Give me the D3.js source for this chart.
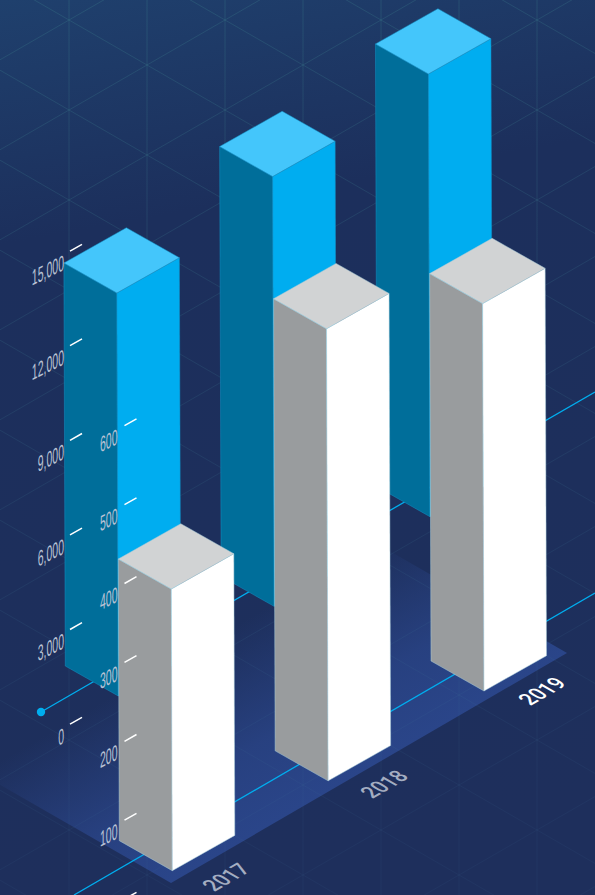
<!DOCTYPE html>
<html>
<head>
<meta charset="utf-8">
<script src="https://cdn.jsdelivr.net/npm/d3@7/dist/d3.min.js"></script>
<style>
  html, body { margin: 0; padding: 0; background: #1d2e5b; }
  svg { display: block; }
</style>
</head>
<body>
<svg id="chart" width="595" height="895"></svg>
<script>
// Values per year, one series per column group
const years = ["2017", "2018", "2019"];
const rearValues = [12780, 13630, 14040];
const frontValues = [357, 573, 491];
const rearTicks = [0, 3000, 6000, 9000, 12000, 15000];
const frontTicks = [0, 100, 200, 300, 400, 500, 600];
const yearColors = ["#a4adc1", "#a4adc1", "#ffffff"];

const rearPalette = { top: "#44c6fb", left: "#006e9a", right: "#00adf0", edge: "#1592c6" };
const frontPalette = { top: "#d1d3d4", left: "#999c9e", right: "#ffffff", edge: "#a9ccd8" };

const W = 595, H = 895;
const svg = d3.select("#chart");
const defs = svg.append("defs");

// Isometric footprint of a column, relative to its front corner
const leftStep = [-53, -30];
const rightStep = [62.5, -35.3];
const lean = 0.0035;   // columns tilt very slightly towards the left

// Ground positions of each column's front corner
const rearX = d3.scalePoint(years, [118.3, 430]);
const rearY = d3.scalePoint(years, [696, 516.7]);
const frontX = d3.scalePoint(years, [172.3, 484]);
const frontY = d3.scalePoint(years, [870.7, 691]);

// Value axes: tick position on screen
const rearAxis = d3.scaleLinear([0, 15000], [720.7, 247.7]);
const frontAxis = d3.scaleLinear([0, 600], [895.7, 422.3]);
const rearHeight = v => rearAxis(0) - rearAxis(v);
const frontHeight = v => frontAxis(0) - frontAxis(v);

// Background
const bg = defs.append("linearGradient").attr("id", "bg")
  .attr("x1", 0).attr("y1", 0).attr("x2", 0.12).attr("y2", 1);
bg.append("stop").attr("offset", 0).attr("stop-color", "#1f406d");
bg.append("stop").attr("offset", 0.27).attr("stop-color", "#1c2f5c");
bg.append("stop").attr("offset", 1).attr("stop-color", "#1e2f5c");
svg.append("rect").attr("width", W).attr("height", H).attr("fill", "url(#bg)");

// Floor plate, fading out away from its front edge
const plate = defs.append("linearGradient").attr("id", "plate")
  .attr("gradientUnits", "userSpaceOnUse")
  .attr("x1", 300).attr("y1", 808).attr("x2", 205).attr("y2", 643);
plate.append("stop").attr("offset", 0).attr("stop-color", "#2a4589").attr("stop-opacity", 1);
plate.append("stop").attr("offset", 0.4).attr("stop-color", "#2a4589").attr("stop-opacity", 0.8);
plate.append("stop").attr("offset", 1).attr("stop-color", "#2a4589").attr("stop-opacity", 0);
svg.append("polygon")
  .attr("points", "171,883 567,653 367,538 -29,768")
  .attr("fill", "url(#plate)");

// Triangular lattice behind the columns
const latticeFade = defs.append("linearGradient").attr("id", "lattice")
  .attr("gradientUnits", "userSpaceOnUse")
  .attr("x1", 0).attr("y1", 0).attr("x2", 120).attr("y2", H);
latticeFade.append("stop").attr("offset", 0).attr("stop-color", "#3f8a8f").attr("stop-opacity", 0.26);
latticeFade.append("stop").attr("offset", 0.5).attr("stop-color", "#3f7f94").attr("stop-opacity", 0.17);
latticeFade.append("stop").attr("offset", 1).attr("stop-color", "#3f6f9a").attr("stop-opacity", 0.09);

const cellW = 78, cellH = 90, slope = 45 / 78, anchorX = 537, anchorY = 20;
const lattice = svg.append("g").attr("fill", "none")
  .attr("stroke", "url(#lattice)").attr("stroke-width", 1);
const latticeLines = [];
d3.range(-8, 16).forEach(n => {
  const y0 = anchorY + n * cellH;
  latticeLines.push([[0, y0 + slope * anchorX], [W, y0 + slope * (anchorX - W)]]);
  latticeLines.push([[0, y0 - slope * anchorX], [W, y0 + slope * (W - anchorX)]]);
});
d3.range(-1, 7).forEach(k => {
  const x = anchorX - k * cellW;
  latticeLines.push([[x, 0], [x + 0.01, H]]);
});
lattice.selectAll("path").data(latticeLines).join("path").attr("d", d3.line());

// Cyan guide lines running along the ground
const guides = svg.append("g").attr("stroke", "#00aeef").attr("stroke-width", 1.3);
guides.append("line").attr("x1", 41).attr("y1", 712).attr("x2", 595).attr("y2", 392);
guides.append("line").attr("x1", 74).attr("y1", 895).attr("x2", 595).attr("y2", 593);
svg.append("circle").attr("cx", 41).attr("cy", 712).attr("r", 4.2).attr("fill", "#00aeef");

// Three visible faces of one column
function columnFaces(x, y, h) {
  const at = (dx, dy, up) => [x + dx - lean * up, y + dy - up];
  const [lx, ly] = leftStep, [rx, ry] = rightStep;
  return {
    left: [at(0, 0, 0), at(lx, ly, 0), at(lx, ly, h), at(0, 0, h)],
    right: [at(0, 0, 0), at(rx, ry, 0), at(rx, ry, h), at(0, 0, h)],
    top: [at(0, 0, h), at(lx, ly, h), at(lx + rx, ly + ry, h), at(rx, ry, h)]
  };
}

function drawSeries(values, xs, ys, heightOf, palette) {
  const g = svg.append("g");
  const column = g.selectAll("g").data(years).join("g");
  ["left", "right", "top"].forEach(face => {
    column.append("path")
      .attr("d", (d, i) => d3.line()(columnFaces(xs(d), ys(d), heightOf(values[i]))[face]) + "Z")
      .attr("fill", palette[face])
      .attr("stroke", palette.edge)
      .attr("stroke-width", 0.5)
      .attr("stroke-linejoin", "round");
  });
}

drawSeries(rearValues, rearX, rearY, rearHeight, rearPalette);
drawSeries(frontValues, frontX, frontY, frontHeight, frontPalette);

// Slanted value axes; the zero label of the front axis falls below the page
function drawAxis(ticks, scale, tickX, labelX, labelDrop, labelled) {
  const g = svg.append("g");
  const tick = g.selectAll("g").data(ticks).join("g");
  tick.append("line")
    .attr("x1", tickX - 6).attr("x2", tickX + 6)
    .attr("y1", d => scale(d) + 3.4).attr("y2", d => scale(d) - 3.4)
    .attr("stroke", "#ffffff").attr("stroke-width", 1.5);
  tick.filter(labelled).append("text")
    .attr("transform", d => `matrix(0.478,-0.24,0,1,${labelX},${scale(d) + labelDrop})`)
    .attr("text-anchor", "end")
    .attr("font-family", "'Liberation Sans',sans-serif")
    .attr("font-size", 22)
    .attr("fill", "#b9c2d4")
    .text(d => d3.format(",")(d));
}

drawAxis(rearTicks, rearAxis, 76, 64, 22, () => true);
drawAxis(frontTicks, frontAxis, 130.5, 117.5, 21.5, d => d > 0);

// Year labels lying flat on the floor
const yearLabel = d3.scalePoint(years, [0, 2]);
const yearPosX = d3.scaleLinear([0, 2], [226, 542]);
const yearPosY = d3.scaleLinear([0, 2], [877, 691]);
svg.append("g").selectAll("text").data(years).join("text")
  .attr("transform", d => {
    const t = yearLabel(d);
    return `matrix(0.72,-0.415,0.866,0.5,${yearPosX(t)},${yearPosY(t)})`;
  })
  .attr("text-anchor", "middle")
  .attr("dy", "0.36em")
  .attr("font-family", "Roboto, sans-serif")
  .attr("font-weight", 500)
  .attr("font-size", 23)
  .attr("fill", (d, i) => yearColors[i])
  .text(d => d);
</script>
</body>
</html>
